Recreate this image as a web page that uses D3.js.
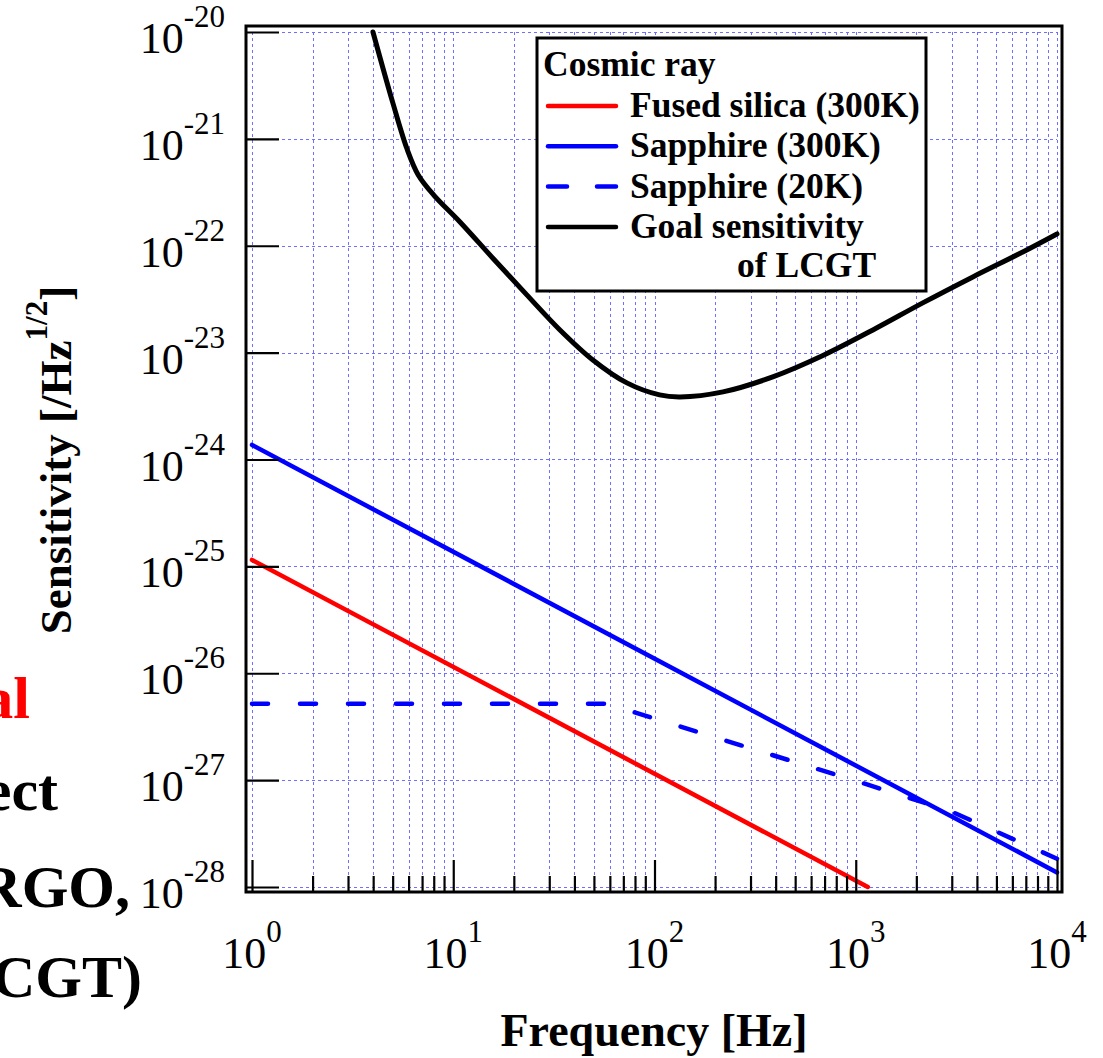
<!DOCTYPE html>
<html>
<head>
<meta charset="utf-8">
<script src="https://cdn.jsdelivr.net/npm/d3@7"></script>
<style>
  body { margin: 0; background: #fff; }
  svg { display: block; }
  text { font-family: "Liberation Serif", "Times New Roman", serif; }
</style>
</head>
<body>
<div id="chart"></div>
<script>
var width = 1103,
    height = 1058;

// values: frequency [Hz] and sensitivity [/Hz^1/2]
var goalFreq = [3.99, 5.01, 5.9, 6.7, 8.0, 10.8, 15.7, 23.2, 33.9, 49.4, 72.9, 106, 134, 219, 387, 687, 1217, 2153, 3818, 6761, 10000];
var goalSens = [1e-20, 2.17e-21, 8.0e-22, 4.6e-22, 2.98e-22, 1.67e-22, 7.69e-23, 3.47e-23, 1.63e-23, 8.54e-24, 5.21e-24,
                4.02e-24, 3.85e-24, 4.29e-24, 5.93e-24, 9.4e-24, 1.63e-23, 2.92e-23, 5.11e-23, 8.75e-23, 1.29e-22];
var fusedFreq = [1, 1148];
var fusedSens = [1.15e-25, 1.0e-28];
var sapphireFreq = [1, 10000];
var sapphireSens = [1.37e-24, 1.37e-28];
var sapphire20Freq = [1, 58, 1000, 2933, 10000];
var sapphire20Sens = [5.18e-27, 5.18e-27, 9.84e-28, 5.16e-28, 1.84e-28];

var xTickExp = ["0", "1", "2", "3", "4"];
var yTickExp = ["-20", "-21", "-22", "-23", "-24", "-25", "-26", "-27", "-28"];

var legendTitle = "Cosmic ray";
var legendNames = ["Fused silica (300K)", "Sapphire (300K)", "Sapphire (20K)", "Goal sensitivity"];
var legendColors = ["#ff0000", "#0000ff", "#0000ff", "#000000"];
var legendDashed = [false, false, true, false];

// pieces of slide text cut off at the left edge
var sideText = ["al", "ect", "RGO,", "CGT)"];
var sideColors = ["#ff0000", "#000", "#000", "#000"];

var x = d3.scaleLog().domain([1, 1e4]).range([252, 1057]);
var y = d3.scaleLog().domain([1e-20, 1e-28]).range([32, 887]);

var pad = 6;
var frame = { left: 252 - pad, right: 1057 + pad - 1, top: 32 - pad, bottom: 887 + 5 };

var svg = d3.select("#chart").append("svg")
    .attr("width", width)
    .attr("height", height);

var allX = x.ticks();
var majorX = allX.filter(function (d) { return Math.abs(Math.log10(d) - Math.round(Math.log10(d))) < 1e-9; });
var minorX = allX.filter(function (d) { return majorX.indexOf(d) < 0; });
var majorY = y.ticks().filter(function (d) { return Math.abs(Math.log10(d) - Math.round(Math.log10(d))) < 1e-9; });

// grid
var grid = svg.append("g")
    .attr("stroke", "#7070ff")
    .attr("stroke-width", 1)
    .attr("stroke-dasharray", "3,3");

grid.selectAll(".vx")
    .data(allX)
    .enter().append("line")
    .attr("x1", function (d) { return Math.round(x(d)) + 0.5; })
    .attr("x2", function (d) { return Math.round(x(d)) + 0.5; })
    .attr("y1", y.range()[0])
    .attr("y2", y.range()[1]);

grid.selectAll(".hy")
    .data(majorY)
    .enter().append("line")
    .attr("y1", function (d) { return Math.round(y(d)) + 0.5; })
    .attr("y2", function (d) { return Math.round(y(d)) + 0.5; })
    .attr("x1", x.range()[0])
    .attr("x2", x.range()[1]);

// curves
var line = d3.line()
    .x(function (d) { return x(d[0]); })
    .y(function (d) { return y(d[1]); });

function pairs(f, s) { return f.map(function (v, i) { return [v, s[i]]; }); }

svg.append("path")
    .datum(pairs(fusedFreq, fusedSens))
    .attr("d", line)
    .attr("fill", "none")
    .attr("stroke", legendColors[0])
    .attr("stroke-width", 4.5)
    .attr("stroke-linecap", "round");

svg.append("path")
    .datum(pairs(sapphireFreq, sapphireSens))
    .attr("d", line)
    .attr("fill", "none")
    .attr("stroke", legendColors[1])
    .attr("stroke-width", 4.5)
    .attr("stroke-linecap", "round");

svg.append("path")
    .datum(pairs(sapphire20Freq, sapphire20Sens))
    .attr("d", line)
    .attr("fill", "none")
    .attr("stroke", legendColors[2])
    .attr("stroke-width", 4.5)
    .attr("stroke-linecap", "round")
    .attr("stroke-dasharray", "16,32");

svg.append("path")
    .datum(pairs(goalFreq, goalSens))
    .attr("d", line.curve(d3.curveCatmullRom.alpha(0.5)))
    .attr("fill", "none")
    .attr("stroke", legendColors[3])
    .attr("stroke-width", 5)
    .attr("stroke-linecap", "round");

// frame
svg.append("rect")
    .attr("x", frame.left)
    .attr("y", frame.top)
    .attr("width", frame.right - frame.left)
    .attr("height", frame.bottom - frame.top)
    .attr("fill", "none")
    .attr("stroke", "#000")
    .attr("stroke-width", 3);

// ticks, pointing inwards
svg.append("g")
    .attr("class", "x minor")
    .attr("transform", "translate(0," + frame.bottom + ")")
    .call(d3.axisBottom(x).tickValues(minorX).tickSize(-16).tickFormat(""));

svg.append("g")
    .attr("class", "x major")
    .attr("transform", "translate(0," + frame.bottom + ")")
    .call(d3.axisBottom(x).tickValues(majorX).tickSize(-32).tickFormat(""));

svg.append("g")
    .attr("class", "y major")
    .attr("transform", "translate(" + frame.left + ",0)")
    .call(d3.axisLeft(y).tickValues(majorY).tickSize(-33).tickFormat(""));

svg.selectAll(".domain").remove();
svg.selectAll(".tick line").attr("stroke", "#000").attr("stroke-width", 2.2);

// tick labels
var xl = svg.append("g").selectAll("text")
    .data(majorX)
    .enter().append("text")
    .attr("x", function (d) { return x(d); })
    .attr("y", 968)
    .attr("text-anchor", "middle")
    .attr("font-size", 44);
xl.append("tspan").text("10");
xl.append("tspan").attr("dy", -26).attr("font-size", 31).text(function (d, i) { return xTickExp[i]; });

var yl = svg.append("g").selectAll("text")
    .data(majorY)
    .enter().append("text")
    .attr("x", 225)
    .attr("y", function (d) { return y(d) + 21; })
    .attr("text-anchor", "end")
    .attr("font-size", 44);
yl.append("tspan").text("10");
yl.append("tspan").attr("dy", -26).attr("font-size", 31).text(function (d, i) { return yTickExp[i]; });

// axis titles
svg.append("text")
    .attr("x", 654)
    .attr("y", 1046)
    .attr("text-anchor", "middle")
    .attr("font-size", 46)
    .attr("font-weight", "bold")
    .text("Frequency [Hz]");

var yt = svg.append("text")
    .attr("transform", "translate(71,460) rotate(-90)")
    .attr("text-anchor", "middle")
    .attr("font-size", 45)
    .attr("font-weight", "bold");
yt.append("tspan").text("Sensitivity [/Hz");
yt.append("tspan").attr("dy", -24).attr("font-size", 31).text("1/2");
yt.append("tspan").attr("dy", 24).text("]");

// legend
var lg = svg.append("g");
lg.append("rect")
    .attr("x", 537)
    .attr("y", 38)
    .attr("width", 389)
    .attr("height", 253)
    .attr("fill", "#fff")
    .attr("stroke", "#000")
    .attr("stroke-width", 3);

lg.append("text")
    .attr("x", 543)
    .attr("y", 76)
    .attr("font-size", 35.5)
    .attr("font-weight", "bold")
    .text(legendTitle);

var rows = lg.selectAll(".row")
    .data(legendNames)
    .enter().append("g")
    .attr("transform", function (d, i) { return "translate(0," + (106 + i * 40.3) + ")"; });

rows.append("line")
    .attr("x1", 548)
    .attr("x2", 616)
    .attr("stroke", function (d, i) { return legendColors[i]; })
    .attr("stroke-width", 4.5)
    .attr("stroke-linecap", "round")
    .attr("stroke-dasharray", function (d, i) { return legendDashed[i] ? "19,30" : null; });

rows.append("text")
    .attr("x", 630)
    .attr("y", 11)
    .attr("font-size", 35.5)
    .attr("font-weight", "bold")
    .text(function (d) { return d; });

lg.append("text")
    .attr("x", 737)
    .attr("y", 277)
    .attr("font-size", 35.5)
    .attr("font-weight", "bold")
    .text("of LCGT");

// cut-off slide text on the left
var sideY = [718, 810, 907, 997];
var sideRight = [30, 58, 130, 142];
svg.append("g").selectAll("text")
    .data(sideText)
    .enter().append("text")
    .attr("x", function (d, i) { return sideRight[i]; })
    .attr("y", function (d, i) { return sideY[i]; })
    .attr("text-anchor", "end")
    .attr("font-size", 60)
    .attr("font-weight", "bold")
    .attr("fill", function (d, i) { return sideColors[i]; })
    .text(function (d) { return d; });
</script>
</body>
</html>
